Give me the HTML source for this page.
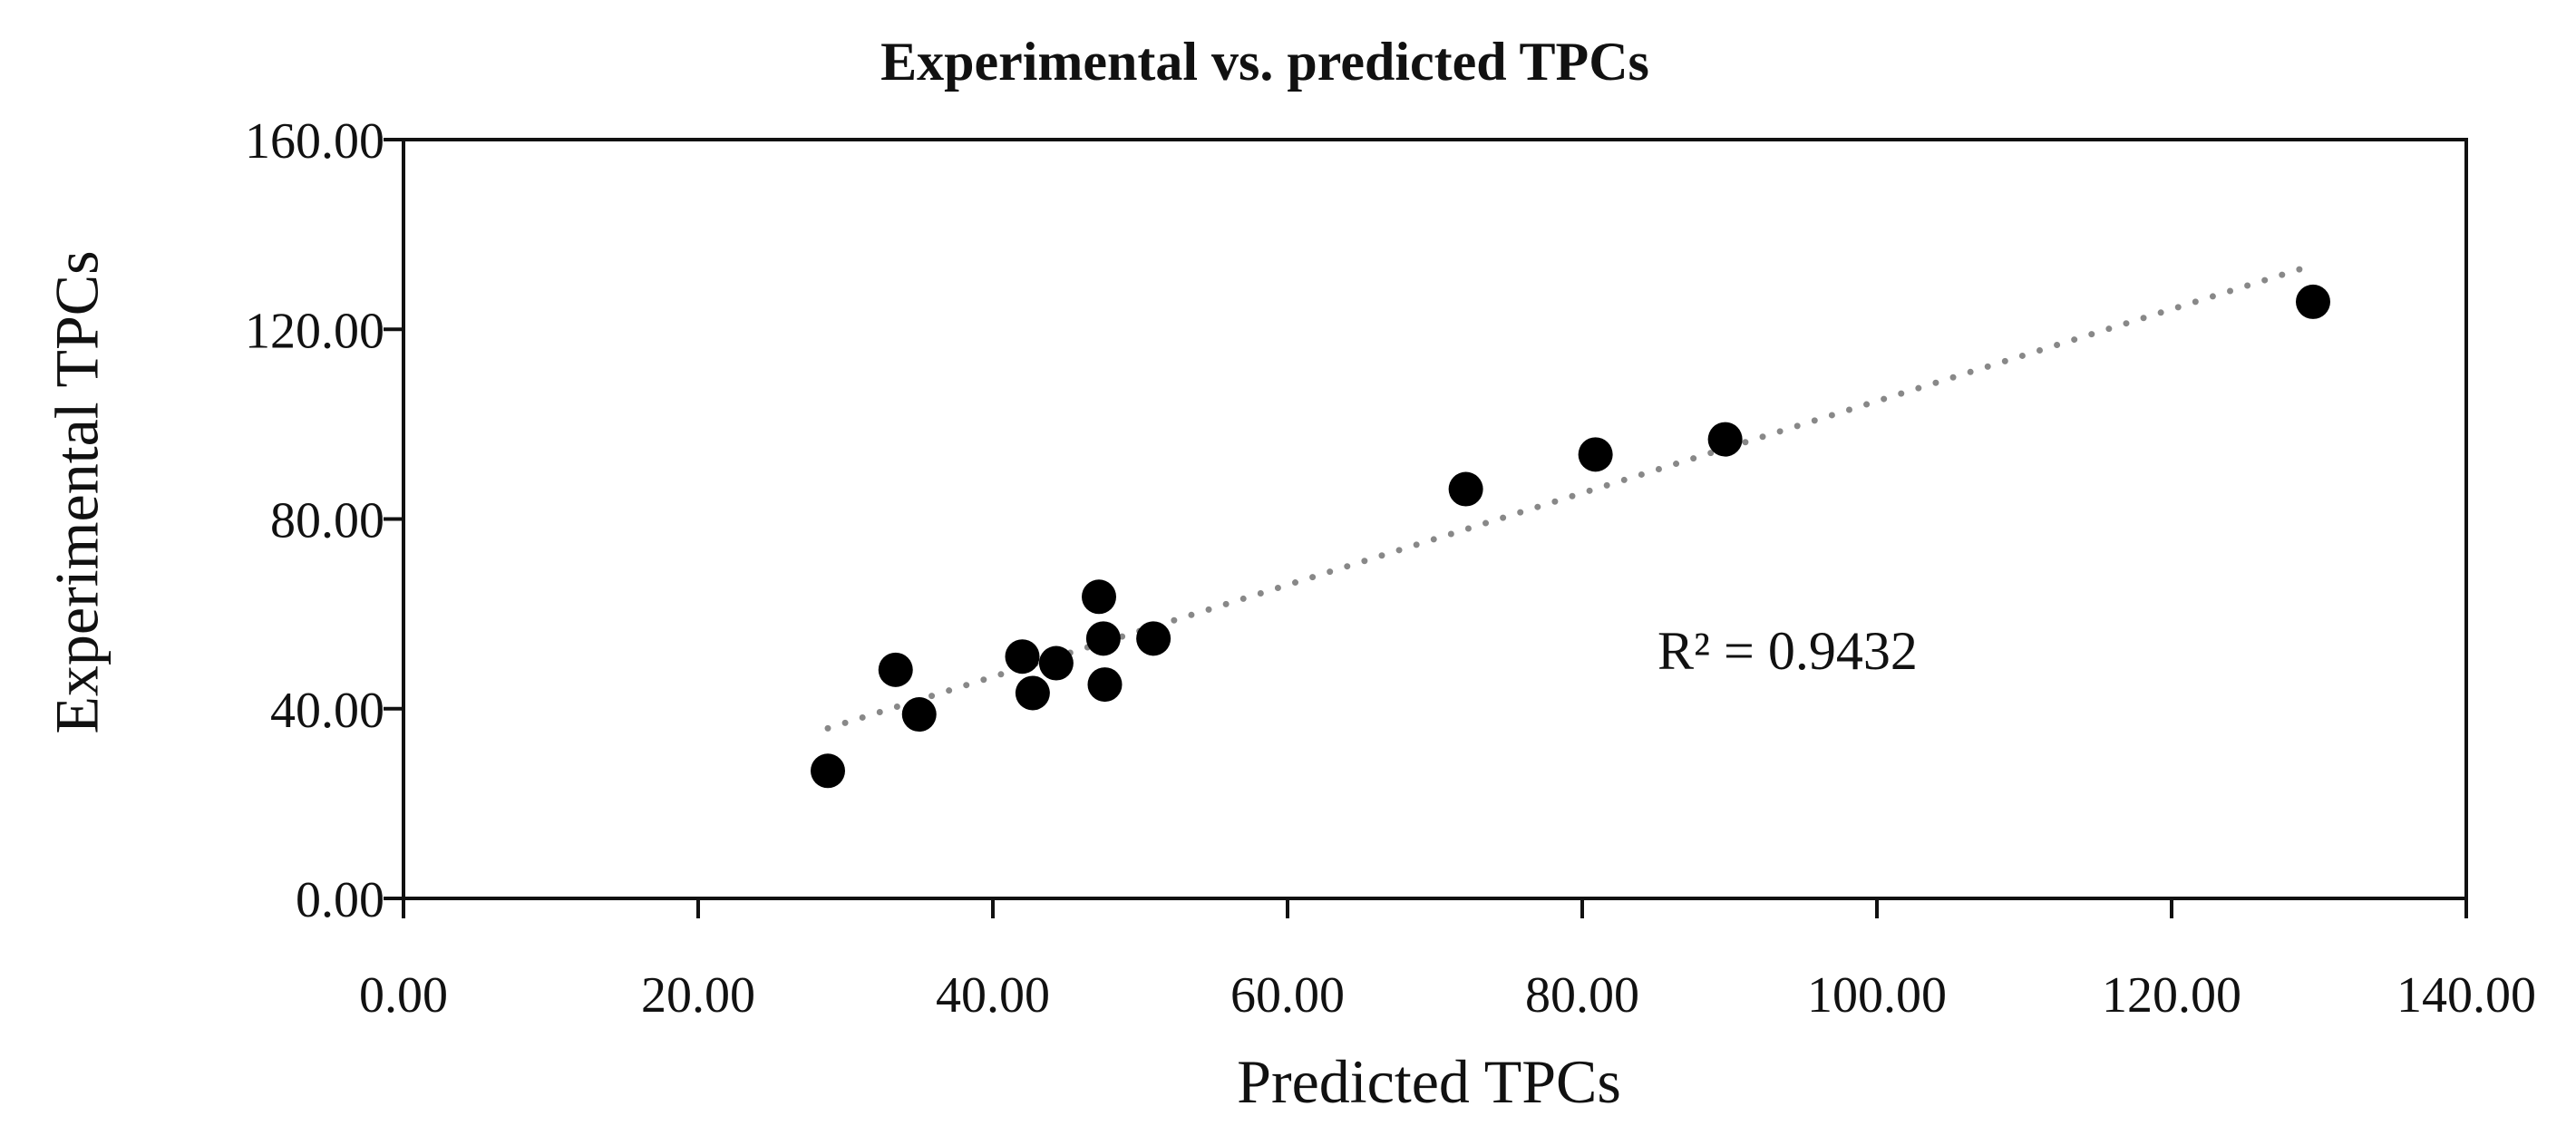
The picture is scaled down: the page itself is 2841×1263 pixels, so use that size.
<!DOCTYPE html>
<html><head><meta charset="utf-8"><style>
html,body{margin:0;padding:0;background:#fff;}
svg{display:block;}
text{font-family:"Liberation Serif",serif;fill:#111;}
</style></head><body>
<svg id="chart" width="2841" height="1263" viewBox="0 0 2841 1263" xmlns="http://www.w3.org/2000/svg">
<text x="1395" y="88" font-size="60" font-weight="bold" text-anchor="middle">Experimental vs. predicted TPCs</text>
<g id="axes"></g>
<g id="trend"></g>
<g id="points"></g>
<text x="1828" y="738" font-size="60">R² = 0.9432</text>
<text x="1576" y="1216" font-size="68" text-anchor="middle">Predicted TPCs</text>
<text transform="translate(92,543) rotate(-90)" font-size="68" text-anchor="middle" dominant-baseline="middle">Experimental TPCs</text>
</svg>
<script>
const predicted = [28.8, 33.4, 35.0, 42.0, 42.7, 44.3, 47.2, 47.5, 47.6, 50.9, 72.1, 80.9, 89.7, 129.6];
const experimental = [26.9, 48.2, 38.8, 51.0, 43.3, 49.6, 63.6, 54.8, 45.1, 54.8, 86.3, 93.6, 96.8, 125.8];
const xTicks = [0, 20, 40, 60, 80, 100, 120, 140];
const yTicks = [0, 40, 80, 120, 160];

const NS = "http://www.w3.org/2000/svg";
const X0 = 445, X1 = 2720, Y0 = 991, Y1 = 154;
const xMin = 0, xMax = 140, yMin = 0, yMax = 160;
function sx(v){ return X0 + (v - xMin) / (xMax - xMin) * (X1 - X0); }
function sy(v){ return Y0 - (v - yMin) / (yMax - yMin) * (Y0 - Y1); }
function mk(tag, attrs, parent){
  const e = document.createElementNS(NS, tag);
  for (const k in attrs) e.setAttribute(k, attrs[k]);
  parent.appendChild(e);
  return e;
}
const axes = document.getElementById('axes');
const frame = mk('rect', {x:X0, y:Y1, width:X1-X0, height:Y0-Y1, fill:'none', stroke:'#111', 'stroke-width':4}, axes);



yTicks.forEach(v => {
  const t = mk('line', {x1:X0-22, x2:X0, y1:sy(v), y2:sy(v), stroke:'#111', 'stroke-width':4}, axes);
  
  
  const l = mk('text', {x:424, y:sy(v)+20, 'font-size':56, 'text-anchor':'end'}, axes);
  
  
  l.textContent = v.toFixed(2);
});
xTicks.forEach(v => {
  const t = mk('line', {x1:sx(v), x2:sx(v), y1:Y0, y2:Y0+22, stroke:'#111', 'stroke-width':4}, axes);
  
  
  const l = mk('text', {x:sx(v), y:1116, 'font-size':56, 'text-anchor':'middle'}, axes);
  
  
  l.textContent = v.toFixed(2);
});

const n = predicted.length;
let mx = 0, my = 0;
for (let i = 0; i < n; i++){ mx += predicted[i]; my += experimental[i]; }
mx /= n; my /= n;
let sxy = 0, sxx = 0;
for (let i = 0; i < n; i++){ sxy += (predicted[i]-mx)*(experimental[i]-my); sxx += (predicted[i]-mx)**2; }
const slope = sxy / sxx, icpt = my - slope * mx;
const xa = Math.min(...predicted), xb = Math.max(...predicted) - 0.7;
const tl = mk('line', {x1:sx(xa), y1:sy(slope*xa+icpt), x2:sx(xb), y2:sy(slope*xb+icpt), stroke:'#888', 'stroke-width':7, 'stroke-dasharray':'0 20', 'stroke-linecap':'round'}, document.getElementById('trend'));



const pts = document.getElementById('points');
predicted.forEach((p, i) => {
  const c = mk('circle', {cx:sx(p), cy:sy(experimental[i]), r:19, fill:'#000'}, pts);
  
  
});
</script>
</body></html>
